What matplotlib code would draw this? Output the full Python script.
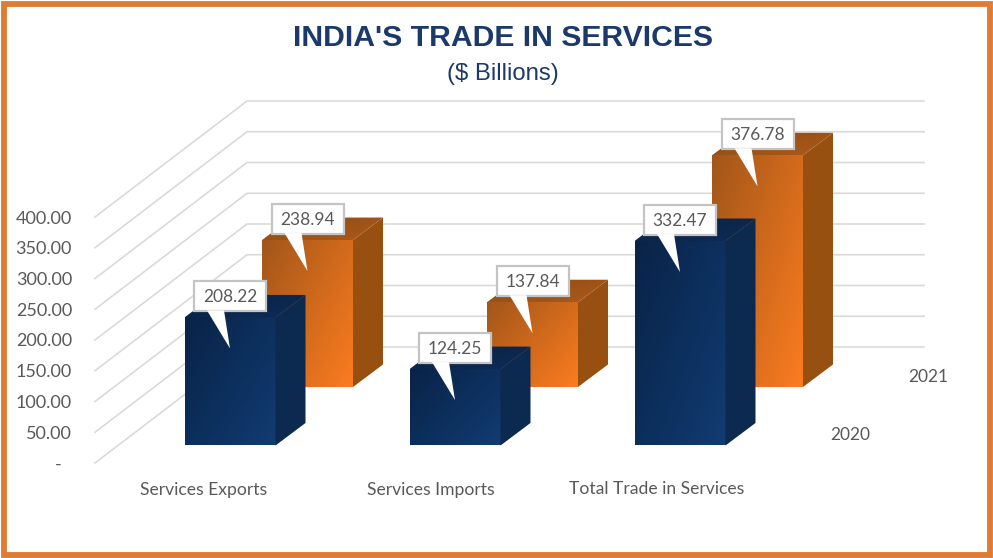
#!/usr/bin/env python3
"""India's trade in services, drawn as a fake 3D column chart"""

import numpy as np
import matplotlib
matplotlib.use('Agg')
import matplotlib.pyplot as plt
from matplotlib.colors import LinearSegmentedColormap
from matplotlib.patches import Polygon, Rectangle

categories = ['Services Exports', 'Services Imports', 'Total Trade in Services']
series_names = ['2020', '2021']
values_2020 = [208.22, 124.25, 332.47]
values_2021 = [238.94, 137.84, 376.78]
tick_values = [0, 50, 100, 150, 200, 250, 300, 350, 400]
tick_labels = ['-', '50.00', '100.00', '150.00', '200.00', '250.00', '300.00', '350.00', '400.00']

W, H = 993, 558
SCALE = 246 / 400          # pixels per unit of value
WALL_X, FLOOR_Y = 95, 463  # front end of the zero gridline
DEPTH_X, DEPTH_Y = 152, -116
BAR_W = 91
BAR_DX, BAR_DY = 30, -22.5
SLOT_X = [184.5, 409.5, 634.5]
SERIES_DX, SERIES_DY = 77.5, -58.5
BASE_2020_Y = 445.5

FONT = 'Lato'
GREY = '#595959'
NAVY = '#1B3A6B'

BLUE = LinearSegmentedColormap.from_list('blue', ['#0a2347', '#0c2f5c', '#123c72'])
ORANGE = LinearSegmentedColormap.from_list('orange', ['#a2561a', '#cf691c', '#fb7c20'])
BLUE_TOP = LinearSegmentedColormap.from_list('blue_top', ['#0a2143', '#0d2c57'])
ORANGE_TOP = LinearSegmentedColormap.from_list('orange_top', ['#8a4a14', '#ad5a1a'])

fig = plt.figure(figsize=(W / 100, H / 100), dpi=100, facecolor='white')
ax = fig.add_axes([0, 0, 1, 1])
ax.set_xlim(0, W)
ax.set_ylim(H, 0)
ax.axis('off')


def shaded_poly(pts, cmap, z):
    """Diagonal gradient clipped to a polygon"""
    pts = np.array(pts)
    x0, y0 = pts.min(axis=0)
    x1, y1 = pts.max(axis=0)
    gx, gy = np.meshgrid(np.linspace(0, 1, 64), np.linspace(0, 1, 64))
    img = ax.imshow(0.55 * gx + 0.45 * gy, cmap=cmap, vmin=0, vmax=1, extent=(x0, x1, y1, y0),
                    aspect='auto', zorder=z, interpolation='bilinear')
    img.set_clip_path(Polygon(pts, closed=True, transform=ax.transData))


def draw_bar(x, base, value, cmap, top_cmap, side, z):
    top = base - value * SCALE
    x1 = x + BAR_W
    shaded_poly([(x, base), (x1, base), (x1, top), (x, top)], cmap, z)
    ax.add_patch(Polygon([(x1, base), (x1 + BAR_DX, base + BAR_DY), (x1 + BAR_DX, top + BAR_DY), (x1, top)],
                         closed=True, facecolor=side, edgecolor='none', zorder=z))
    shaded_poly([(x, top), (x1, top), (x1 + BAR_DX, top + BAR_DY), (x + BAR_DX, top + BAR_DY)], top_cmap, z)


def callout(x, base, value):
    top = base - value * SCALE
    cx = x + BAR_W / 2
    bw, bh = 72, 30
    by = top - 21
    ax.add_patch(Rectangle((cx - bw / 2, by - bh / 2), bw, bh, facecolor='white', edgecolor='#c4c4c4',
                           linewidth=1.6, zorder=20))
    # tail has no outline of its own, it just opens out of the box
    ax.add_patch(Polygon([(cx - 23, by + bh / 2 - 1), (cx - 6, by + bh / 2 - 1), (cx, top + 31)],
                         closed=True, facecolor='white', edgecolor='none', zorder=21))
    ax.text(cx, by + 1, f'{value:.2f}', ha='center', va='center', fontsize=12.5, family=FONT,
            color=GREY, zorder=22)


# gridlines: up the side wall, then along the back wall
for v in tick_values:
    y = FLOOR_Y - v * SCALE
    ax.plot([WALL_X, WALL_X + DEPTH_X, 924], [y, y + DEPTH_Y, y + DEPTH_Y], color='#dadada', lw=1.2,
            solid_joinstyle='miter', zorder=1)

for v, lab in zip(tick_values, tick_labels):
    xr = 72 if v else 62
    ax.text(xr, FLOOR_Y - v * SCALE + 1.5, lab, ha='right', va='center', fontsize=13, family=FONT, color=GREY)

# back row first so the front row hides it
for x, v in zip(SLOT_X, values_2021):
    draw_bar(x + SERIES_DX, BASE_2020_Y + SERIES_DY, v, ORANGE, ORANGE_TOP, '#97500f', 3)
for x, v in zip(SLOT_X, values_2020):
    draw_bar(x, BASE_2020_Y, v, BLUE, BLUE_TOP, '#0c2a50', 5)

for x, v in zip(SLOT_X, values_2021):
    callout(x + SERIES_DX, BASE_2020_Y + SERIES_DY, v)
for x, v in zip(SLOT_X, values_2020):
    callout(x, BASE_2020_Y, v)

for x, lab, off in zip(SLOT_X, categories, [-26, -24, -23]):
    ax.text(x + BAR_W / 2 + off, 489.5, lab, ha='center', va='center', fontsize=12.6, family=FONT, color=GREY)

for i, name in enumerate(series_names):
    ax.text(850.5 + i * SERIES_DX, 435 + i * SERIES_DY, name, ha='center', va='center', fontsize=12.5,
            family=FONT, color=GREY)

ax.text(503, 37.5, "INDIA'S TRADE IN SERVICES", ha='center', va='center', fontsize=21.7, fontweight='bold',
        family='Liberation Sans', color=NAVY)
ax.text(502.5, 74, '($ Billions)', ha='center', va='center', fontsize=17.2, family='Liberation Sans', color=NAVY)

ax.add_patch(Rectangle((3.5, 3.5), W - 7, H - 7, facecolor='none', edgecolor='#e07b33', linewidth=4.2, zorder=30))

plt.savefig('out.png', dpi=100)
